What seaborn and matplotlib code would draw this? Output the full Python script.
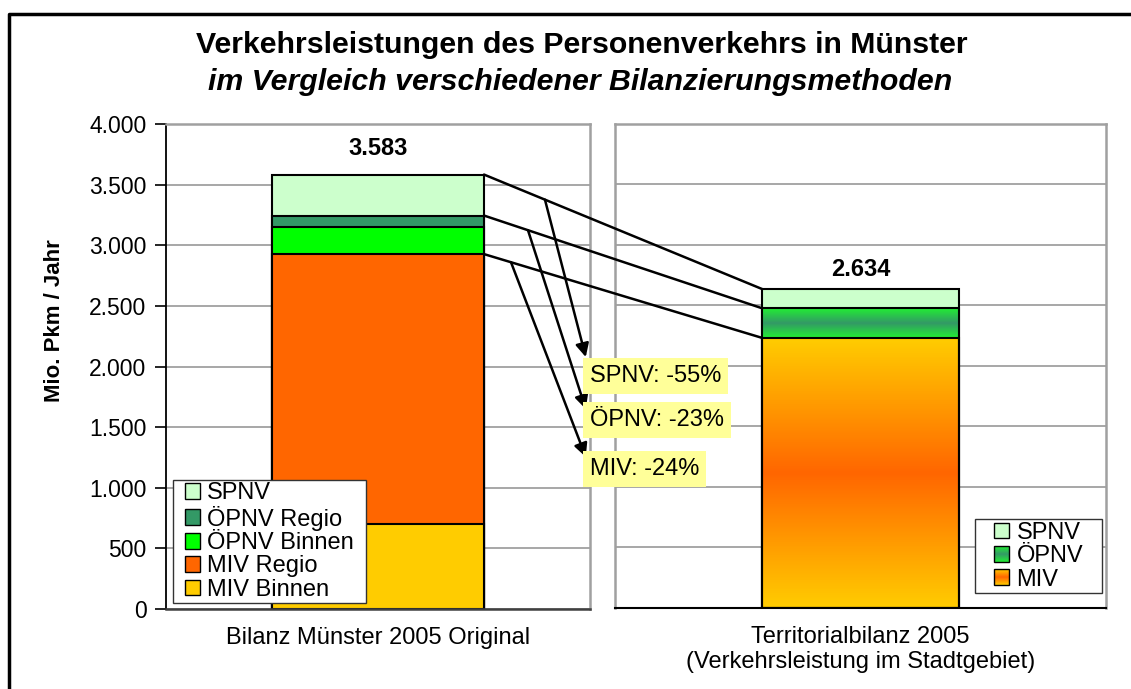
import numpy as np
import matplotlib
matplotlib.use("Agg")
import matplotlib.pyplot as plt
import seaborn as sns
from matplotlib.patches import Patch, Rectangle, ConnectionPatch
from matplotlib.lines import Line2D
from matplotlib.path import Path
from matplotlib.legend_handler import HandlerBase
from matplotlib.colors import LinearSegmentedColormap
from matplotlib.ticker import FuncFormatter

# data (top segment first)
left_cat = "Bilanz Münster 2005 Original"
left_series = ["SPNV", "ÖPNV Regio", "ÖPNV Binnen", "MIV Regio", "MIV Binnen"]
left_vals = [338, 97, 221, 2222, 705]
left_colors = ["#CCFFCC", "#339966", "#00FF00", "#FF6600", "#FFCC00"]

right_cat = "Territorialbilanz 2005\n(Verkehrsleistung im Stadtgebiet)"
right_series = ["SPNV", "ÖPNV", "MIV"]
right_vals = [159, 245, 2230]
right_colors = ["#CCFFCC", "#33AA66", "#FF8800"]
# gradients (edge -> middle -> edge)
right_grads = [None, ["#22EE33", "#339966", "#22EE33"], ["#FFCC00", "#FF6600", "#FFCC00"]]

changes = ["SPNV: -55%", "ÖPNV: -23%", "MIV: -24%"]
change_pos = [1922, 1559, 1155]     # label centre (left axis units)
arrow_tips = [2078, 1649, 1254]
arrow_frac = [0.219, 0.158, 0.097]  # where the arrow leaves the connector

sns.set_style("white")
plt.rcParams["font.family"] = ["Liberation Sans", "DejaVu Sans"]
plt.rcParams.update({"text.color": "black", "axes.labelcolor": "black",
                     "xtick.color": "black", "ytick.color": "black"})

W, H = 1131, 689
FS = 17
fig = plt.figure(figsize=(W / 100, H / 100), dpi=100)
ax1 = fig.add_axes([166 / W, 1 - 609 / H, 424 / W, 485 / H])
ax2 = fig.add_axes([615 / W, 1 - 607.5 / H, 491 / W, 483.5 / H])
ax2.patch.set_alpha(0)

def stack(ax, cat, vals, colors, width):
    cum = np.cumsum(vals[::-1])[::-1]
    for v, c in zip(cum, colors):
        sns.barplot(x=[cat], y=[v], color=c, saturation=1, width=width,
                    edgecolor="black", linewidth=1.5, errorbar=None, ax=ax)
    return cum

cum_l = stack(ax1, left_cat, left_vals, left_colors, 0.5)
cum_r = stack(ax2, right_cat, right_vals, right_colors, 0.4)

# gradient fills on the right bar
for i, g in enumerate(right_grads):
    if g is None:
        continue
    p = ax2.patches[i]
    lo = cum_r[i + 1] if i + 1 < len(cum_r) else 0
    cmap = LinearSegmentedColormap.from_list("g", g)
    img = cmap(np.linspace(0, 1, 200))[:, None, :3]
    ax2.imshow(img, extent=[p.get_x(), p.get_x() + p.get_width(), lo, cum_r[i]],
               aspect="auto", zorder=1.5, origin="lower")
    p.set_facecolor("none")
    p.set_zorder(2)

for ax in (ax1, ax2):
    ax.set_ylim(0, 4000)
    ax.set_xlim(-0.5, 0.5)
    ax.set_yticks(np.arange(0, 4001, 500))
    ax.yaxis.grid(True, color="#A0A0A0", lw=1.3)
    ax.set_axisbelow(True)
    ax.set_xlabel("")
    ax.set_ylabel("")
    for s in ax.spines.values():
        s.set_color("#A0A0A0")
        s.set_linewidth(1.8)
    ax.tick_params(axis="x", which="major", length=0, pad=13, labelsize=FS)

ax1.spines["left"].set_color("black")
ax1.spines["left"].set_linewidth(1.3)
ax1.spines["bottom"].set_color("#404040")
ax2.spines["bottom"].set_color("black")
ax2.spines["bottom"].set_linewidth(1.5)
ax1.yaxis.set_major_formatter(FuncFormatter(lambda v, _: f"{int(v):,}".replace(",", ".")))
ax1.tick_params(axis="y", left=True, length=8, width=1.2, color="black", labelsize=16.5, pad=6)
ax2.tick_params(axis="y", left=False, labelleft=False)

# totals
for ax, total, off in ((ax1, cum_l[0], 19), (ax2, cum_r[0], 14)):
    ax.annotate(f"{int(total):,}".replace(",", "."), (0.0, float(total)), xytext=(0, off),
                xycoords=ax.transData, textcoords="offset points", ha="center", va="center",
                fontsize=17, fontweight="bold")

# connectors between the bars
x_l = 0.25
x_r = -0.2
conn = [(cum_l[0], cum_r[0]), (cum_l[1], cum_r[1]), (cum_l[3], cum_r[2])]
fig.canvas.draw()
for (a, b), fr, tip, lab, ly in zip(conn, arrow_frac, arrow_tips, changes, change_pos):
    pa = ax1.transData.transform((x_l, float(a)))
    pb = ax2.transData.transform((x_r, float(b)))
    fig.add_artist(ConnectionPatch(tuple(pa), tuple(pb), "figure pixels",
                                   color="black", lw=1.8, zorder=5))
    start = pa + fr * (pb - pa)
    tip_px = ax1.transData.transform((0.49, float(tip)))
    fig.add_artist(ConnectionPatch(tuple(start), tuple(tip_px), "figure pixels",
                                   arrowstyle="-|>", color="black", lw=1.8,
                                   mutation_scale=20, zorder=6))
    fig.text(0.5, float(ly), lab, transform=ax1.transData, ha="left", va="center",
             fontsize=FS, zorder=7,
             bbox=dict(boxstyle="square,pad=0.28", fc="#FFFF99", ec="none"))


class GradHandler(HandlerBase):
    """square swatch, optionally with a vertical edge-middle-edge gradient"""
    def __init__(self, colors):
        super().__init__()
        self.colors = colors

    def create_artists(self, legend, orig, xd, yd, w, h, fs, trans):
        arts = []
        if self.colors is None:
            arts.append(Rectangle((-xd, -yd), w, h, facecolor=orig.get_facecolor(),
                                  edgecolor="none", transform=trans))
        else:
            cmap = LinearSegmentedColormap.from_list("g", self.colors)
            n = 16
            for k in range(n):
                arts.append(Rectangle((-xd, -yd + k * h / n), w, h / n + 0.3,
                                      facecolor=cmap((k + 0.5) / n), edgecolor="none",
                                      transform=trans))
        arts.append(Rectangle((-xd, -yd), w, h, fill=False, edgecolor="black", lw=1,
                              transform=trans))
        return arts


def wide_box(dx):
    def style(x0, y0, width, height, mutation_size):
        x0 -= dx
        x1 = x0 + width + 2 * dx
        y1 = y0 + height
        return Path([(x0, y0), (x1, y0), (x1, y1), (x0, y1), (x0, y0)], closed=True)
    return style


leg_kw = dict(borderaxespad=0, fontsize=FS, frameon=True, fancybox=False, framealpha=1,
              edgecolor="#333333", handlelength=0.65, handleheight=0.65, handletextpad=0.3,
              labelspacing=0.06, borderpad=0.1)

h1 = [Patch(facecolor=c) for c in left_colors]
leg1 = ax1.legend(h1, left_series, loc="lower left", bbox_to_anchor=(0.039, 0.012),
                  handler_map={h: GradHandler(None) for h in h1}, **leg_kw)
leg1.get_frame().set_boxstyle(wide_box(9.5))

h2 = [Patch(facecolor=c) for c in right_colors]
leg2 = ax2.legend(h2, right_series, loc="lower right", bbox_to_anchor=(0.958, 0.03),
                  handler_map={h: GradHandler(g) for h, g in zip(h2, right_grads)}, **leg_kw)
leg2.get_frame().set_boxstyle(wide_box(17))

# titles
fig.text(582 / W, 1 - 45 / H, "Verkehrsleistungen des Personenverkehrs in Münster",
         ha="center", va="center", fontsize=21.8, fontweight="bold")
fig.text(580 / W, 1 - 82 / H, "im Vergleich verschiedener Bilanzierungsmethoden",
         ha="center", va="center", fontsize=21.8, fontweight="bold", style="italic")
fig.text(55 / W, 1 - 321 / H, "Mio. Pkm / Jahr", rotation=90, ha="center", va="center",
         fontsize=16, fontweight="bold")

# outer chart frame (left and top edges visible)
fig.add_artist(Line2D([8.5 / W, 8.5 / W, 1.0], [0.0, 1 - 13.5 / H, 1 - 13.5 / H],
                      transform=fig.transFigure, color="black", lw=2.5))

fig.savefig("out.png", dpi=100)
